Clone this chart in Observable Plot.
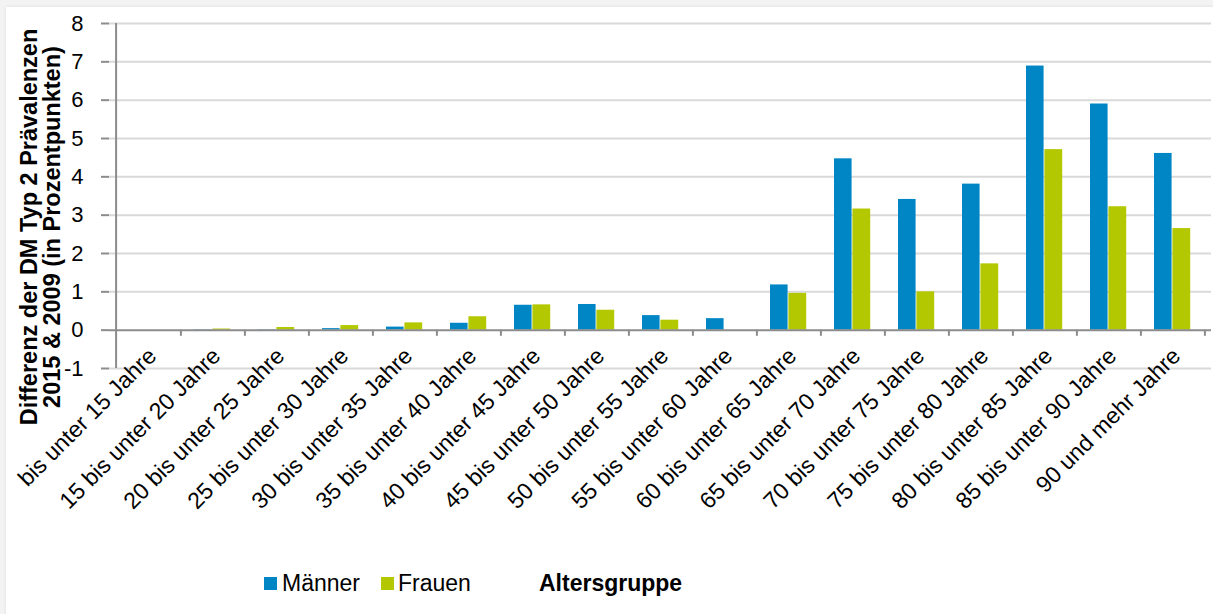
<!DOCTYPE html>
<html>
<head>
<meta charset="utf-8">
<script src="https://cdn.jsdelivr.net/npm/d3@7"></script>
<script src="https://cdn.jsdelivr.net/npm/@observablehq/plot@0.6"></script>
<style>
  html, body { margin: 0; padding: 0; background: #f3f3f3; }
  body { width: 1213px; height: 614px; position: relative; overflow: hidden; font-family: "Liberation Sans", Arial, sans-serif; }
  #panel { position: absolute; left: 6px; top: 7px; width: 1215px; height: 615px; background: #fff; box-shadow: 0 0 3px rgba(0,0,0,0.10); }
  #chart { position: absolute; left: 0; top: 0; }
  #legend { position: absolute; left: 0; top: 569px; height: 28px; width: 1213px; font-size: 23px; color: #000; }
  #legend .sw { position: absolute; top: 8px; width: 13px; height: 13px; }
  #legend .lab { position: absolute; top: 0; height: 28px; line-height: 28px; white-space: nowrap; }
  #legend .title { font-weight: bold; }
</style>
</head>
<body>
<div id="panel"></div>
<div id="chart"></div>
<div id="legend"></div>
<script>
const categories = [
  "bis unter 15 Jahre", "15 bis unter 20 Jahre", "20 bis unter 25 Jahre", "25 bis unter 30 Jahre",
  "30 bis unter 35 Jahre", "35 bis unter 40 Jahre", "40 bis unter 45 Jahre", "45 bis unter 50 Jahre",
  "50 bis unter 55 Jahre", "55 bis unter 60 Jahre", "60 bis unter 65 Jahre", "65 bis unter 70 Jahre",
  "70 bis unter 75 Jahre", "75 bis unter 80 Jahre", "80 bis unter 85 Jahre", "85 bis unter 90 Jahre",
  "90 und mehr Jahre"
];
const maenner = [0, 0.01, 0.01, 0.04, 0.08, 0.18, 0.65, 0.67, 0.38, 0.30, 1.18, 4.47, 3.41, 3.81, 6.89, 5.90, 4.61];
const frauen  = [0, 0.03, 0.07, 0.12, 0.19, 0.35, 0.66, 0.52, 0.26, 0.00, 0.96, 3.16, 1.00, 1.73, 4.71, 3.22, 2.65];
const seriesNames = ["Männer", "Frauen"];
const yTicks = [-1, 0, 1, 2, 3, 4, 5, 6, 7, 8];
const yTitle = "Differenz der DM Typ 2 Prävalenzen\n2015 & 2009 (in Prozentpunkten)";
const xTitle = "Altersgruppe";

const colors = {"Männer": "#0086c5", "Frauen": "#b3c800"};
const rows = [];
categories.forEach((c, i) => {
  rows.push({cat: c, series: seriesNames[0], value: maenner[i]});
  rows.push({cat: c, series: seriesNames[1], value: frauen[i]});
});

const W = 1213, H = 560;
const mL = 109, mR = 2, mT = 23, mB = 192;
const bw = (W - mL - mR) / categories.length;
const axisGray = "#8c8c8c";

const chart = Plot.plot({
  width: W, height: H,
  marginLeft: mL, marginRight: mR, marginTop: mT, marginBottom: mB,
  style: {fontFamily: "Liberation Sans, Arial, sans-serif", background: "transparent", overflow: "visible"},
  x: {type: "band", domain: categories, padding: 0, axis: null},
  y: {domain: [-1, 8], axis: null},
  marks: [
    Plot.ruleY(yTicks.filter(v => v !== 0), {y: d => d, stroke: "#d9d9d9", strokeWidth: 2}),
    Plot.barY(rows.filter(d => d.series === seriesNames[0]), {
      x: "cat", y: "value", fill: colors["Männer"],
      insetLeft: bw * 0.216, insetRight: bw * 0.5
    }),
    Plot.barY(rows.filter(d => d.series === seriesNames[1]), {
      x: "cat", y: "value", fill: colors["Frauen"],
      insetLeft: bw * 0.5, insetRight: bw * 0.213
    }),
    Plot.ruleY([0], {stroke: axisGray, strokeWidth: 2}),
    Plot.ruleX([categories[0]], {x: d => d, dx: -bw / 2, y1: -1, y2: 8, stroke: axisGray, strokeWidth: 2}),
    Plot.ruleX(categories, {x: d => d, dx: bw / 2, y1: 0, y2: -0.16, stroke: axisGray, strokeWidth: 2}),
    Plot.axisY(yTicks, {tickSize: 8, tickPadding: 18, tickFormat: d => String(d), fontSize: 22, label: null, stroke: axisGray, strokeWidth: 2, color: "#000"}),
    Plot.text(categories, {
      x: d => d, y: 0, text: d => d, rotate: -45, textAnchor: "end", lineAnchor: "middle",
      dx: 4, dy: 22, fontSize: 23, fill: "#000"
    }),
    Plot.text([yTitle], {
      frameAnchor: "left", text: d => d, rotate: -90, textAnchor: "middle", lineAnchor: "middle",
      dx: -68, dy: 31, fontSize: 23.5, fontWeight: "bold", fill: "#000", lineHeight: 0.95
    })
  ]
});
document.getElementById("chart").appendChild(chart);

const legend = document.getElementById("legend");
const legendItems = [
  {name: seriesNames[0], sw: 264, text: 282},
  {name: seriesNames[1], sw: 381, text: 398}
];
legendItems.forEach(p => {
  const sw = document.createElement("div");
  sw.className = "sw";
  sw.style.left = p.sw + "px";
  sw.style.background = colors[p.name];
  legend.appendChild(sw);
  const tx = document.createElement("div");
  tx.className = "lab";
  tx.style.left = p.text + "px";
  tx.textContent = p.name;
  legend.appendChild(tx);
});
const t = document.createElement("div");
t.className = "lab title";
t.style.left = "539px";
t.textContent = xTitle;
legend.appendChild(t);
</script>
</body>
</html>
